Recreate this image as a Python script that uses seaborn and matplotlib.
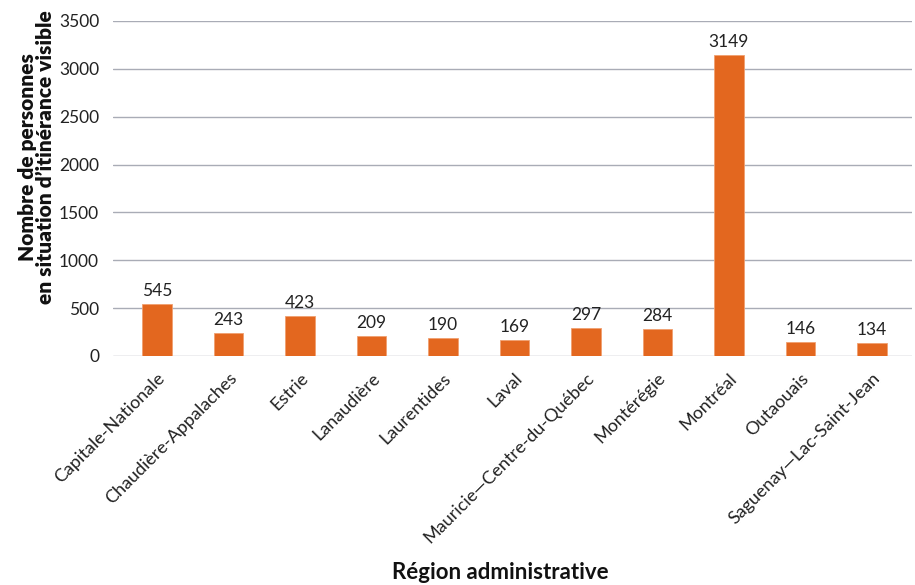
import matplotlib
matplotlib.use("Agg")
import matplotlib.pyplot as plt
import seaborn as sns
import pandas as pd

regions = ["Capitale-Nationale", "Chaudière-Appalaches", "Estrie", "Lanaudière",
           "Laurentides", "Laval", "Mauricie\u2014Centre-du-Québec", "Montérégie",
           "Montréal", "Outaouais", "Saguenay\u2014Lac-Saint-Jean"]
counts = [545, 243, 423, 209, 190, 169, 297, 284, 3149, 146, 134]
yticks = [0, 500, 1000, 1500, 2000, 2500, 3000, 3500]

df = pd.DataFrame({"region": regions, "count": counts})

sns.set_theme(style="white")
plt.rcParams['font.family'] = ['Lato', 'DejaVu Sans']

fig = plt.figure(figsize=(9.15, 5.85), dpi=100)
ax = fig.add_axes([113/915, 1 - 356/585, (912-113)/915, (356-21)/585])

sns.barplot(data=df, x="region", y="count", color="#E3671F", width=0.41,
            saturation=1, ax=ax, edgecolor="#F0A070", linewidth=0.6)

ax.set_ylim(0, 3500)
ax.set_xlim(-0.615, 10.56)
ax.set_yticks(yticks)
ax.set_yticklabels([str(v) for v in yticks], fontsize=12.5, color="#222222")
ax.yaxis.grid(True, color="#A9ACB6", linewidth=1.0)
ax.set_axisbelow(True)
for s in ax.spines.values():
    s.set_visible(False)
ax.tick_params(axis='y', length=0, pad=10)
ax.tick_params(axis='x', length=0, pad=10)

ax.set_xticks(range(len(regions)))
ax.set_xticklabels(regions, rotation=45, ha='right', rotation_mode='anchor',
                   fontsize=13, fontweight='normal', color="#222222")

for i, v in enumerate(counts):
    ax.text(i, v + 50, str(v), ha='center', va='bottom', fontsize=12.5, color="#222222")

ax.set_xlabel("Région administrative", fontsize=16, fontweight='bold', color="#111111")
ax.xaxis.set_label_coords((500-113)/(912-113), (356-562)/(356-21))
ax.set_ylabel("Nombre de personnes\nen situation d\u2019itinérance visible",
              fontsize=15, fontweight='heavy', color="#111111", linespacing=0.95)
ax.yaxis.set_label_coords((55-113)/(912-113), (356-157)/(356-21))

fig.savefig("out.png", dpi=100)
